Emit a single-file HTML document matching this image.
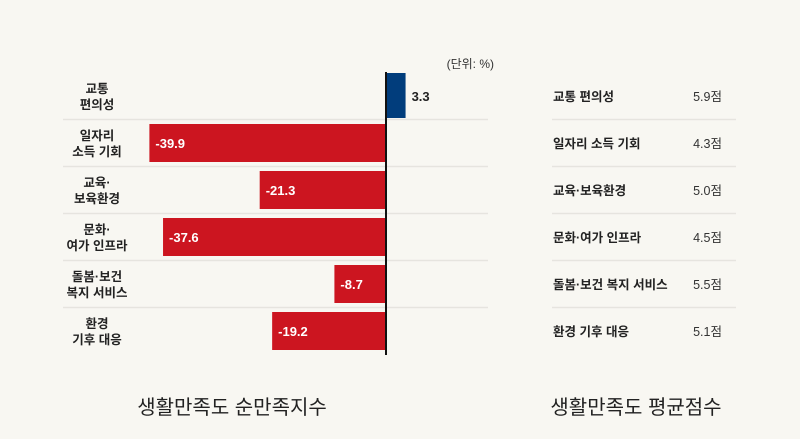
<!DOCTYPE html>
<html><head><meta charset="utf-8">
<style>
body{margin:0;background:#f8f7f2;}
#wrap{position:relative;width:800px;height:439px;overflow:hidden;background:#f8f7f2;font-family:"Liberation Sans","Noto Sans CJK KR",sans-serif;}
svg text{font-family:"Liberation Sans","Noto Sans CJK KR",sans-serif;}
</style></head><body>
<div id="wrap">
<svg id="chart" width="800" height="439"></svg>
</div>
<script>
const categories=[["교통","편의성"],["일자리","소득 기회"],["교육·","보육환경"],["문화·","여가 인프라"],["돌봄·보건","복지 서비스"],["환경","기후 대응"]];
const netValues=[3.3,-39.9,-21.3,-37.6,-8.7,-19.2];
const scoreLabels=["교통 편의성","일자리 소득 기회","교육·보육환경","문화·여가 인프라","돌봄·보건 복지 서비스","환경 기후 대응"];
const scores=[5.9,4.3,5.0,4.5,5.5,5.1];

const NS="http://www.w3.org/2000/svg";
const svg=document.getElementById('chart');
function mk(tag,attrs,txt){const e=document.createElementNS(NS,tag);for(const k in attrs)e.setAttribute(k,attrs[k]);if(txt!==undefined)e.textContent=txt;svg.appendChild(e);return e;}
const x0=386, pxPer=5.93;
function xs(v){return x0+v*pxPer;}
function rowCenter(i){return i===0?96:143+(i-1)*47;}
// separators
for(let i=1;i<categories.length;i++){
  const y=rowCenter(i)-23.5;
  let l=mk('line',{x1:63,x2:488,y1:y,y2:y,stroke:'#e6e4df','stroke-width':1.5});
  
  
  let l2=mk('line',{x1:552,x2:736,y1:y,y2:y,stroke:'#e6e4df','stroke-width':1.5});
  
  
}
categories.forEach((c,i)=>{
  const cy=rowCenter(i);
  const v=netValues[i];
  const h=i===0?45:38;
  const top=i===0?73:cy-19;
  const x=Math.min(xs(v),x0), w=Math.abs(xs(v)-x0);
  const r=mk('rect',{x:x,y:top,width:w,height:h,fill:v>=0?'#013d7c':'#cc1520'});
  
  
  const t=mk('text',{x:v>=0?xs(v)+6:x+6,y:cy+5,'font-size':13,'font-weight':'bold',fill:v>=0?'#222':'#fff'},(v>=0?'':'')+v.toFixed(1));
  
  
  const lab=mk('text',{x:97,'text-anchor':'middle','font-size':12.5,'font-weight':'bold',fill:'#222'});
  
  
  c.forEach((s,j)=>{const ts=document.createElementNS(NS,'tspan');ts.setAttribute('x',97);ts.setAttribute('y',cy-3+j*16);ts.textContent=s;lab.appendChild(ts);});
  const sl=mk('text',{x:553,y:cy+5,'font-size':12.5,'font-weight':'bold',fill:'#222'},scoreLabels[i]);
  
  
  const sv=mk('text',{x:722,y:cy+5,'text-anchor':'end','font-size':12.5,fill:'#333'},scores[i].toFixed(1)+'점');
  
  
});
const ax=mk('line',{x1:x0,x2:x0,y1:72,y2:355,stroke:'#111','stroke-width':2});


const u=mk('text',{x:494,y:68,'text-anchor':'end','font-size':12,fill:'#333'},'(단위: %)');


const t1=mk('text',{x:232,y:414,'text-anchor':'middle','font-size':20,fill:'#222'},'생활만족도 순만족지수');


const t2=mk('text',{x:636,y:414,'text-anchor':'middle','font-size':20,fill:'#222'},'생활만족도 평균점수');


</script>
</body></html>
